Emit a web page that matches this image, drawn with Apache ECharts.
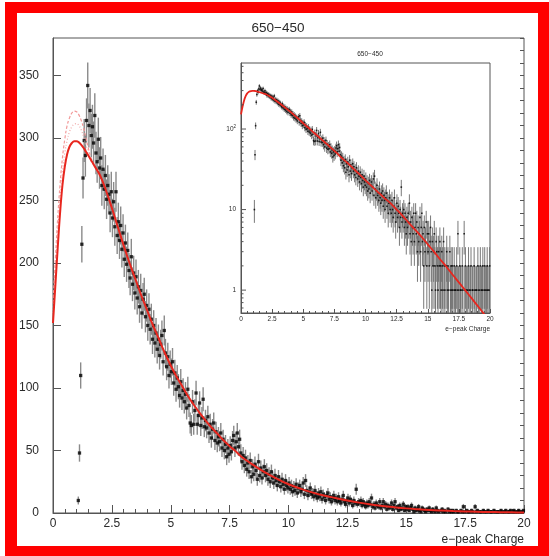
<!DOCTYPE html>
<html>
<head>
<meta charset="utf-8">
<script src="https://cdn.jsdelivr.net/npm/echarts@6/dist/echarts.min.js"></script>
<style>
html, body { margin: 0; padding: 0; background: #fff; }
#chart { width: 549px; height: 556px; }
</style>
</head>
<body>
<div id="chart"></div>
<script>
// Histogram binning: 0.05-wide bins starting at 1.0
const binLow = 1.0;
const binWidth = 0.05;

// Bin contents, one row per unit of charge (1-2, 2-3, ... 19-20)
const counts = [
  0, 10, 48, 110, 215, 268, 298, 286, 314, 342, 310, 322, 302, 309, 296, 318, 288, 281, 299, 276,
  284, 262, 275, 259, 270, 251, 262, 255, 240, 257, 236, 249, 229, 257, 222, 233, 218, 230, 211, 224,
  203, 216, 199, 210, 194, 188, 205, 183, 192, 176, 189, 172, 181, 165, 178, 160, 171, 175, 157, 166,
  150, 163, 147, 155, 139, 150, 136, 144, 131, 139, 126, 135, 142, 121, 146, 128, 117, 125, 110, 119,
  113, 121, 104, 112, 99, 108, 101, 94, 105, 92, 98, 89, 95, 84, 99, 86, 72, 70, 89, 71,
  82, 96, 71, 78, 88, 70, 76, 91, 69, 74, 68, 77, 64, 71, 60, 67, 72, 58, 65, 56,
  61, 57, 64, 52, 59, 50, 55, 45, 52, 47, 54, 49, 58, 62, 52, 57, 64, 53, 59, 48,
  41, 46, 38, 44, 35, 40, 33, 42, 29, 37, 31, 39, 34, 27, 41, 30, 36, 28, 33, 37,
  30, 34, 27, 31, 25, 33, 28, 24, 30, 26, 22, 29, 25, 21, 27, 23, 19, 26, 22, 20,
  24, 19, 22, 17, 21, 18, 23, 16, 20, 22, 17, 19, 24, 15, 26, 18, 14, 17, 20, 15,
  16, 13, 18, 14, 12, 16, 13, 17, 11, 15, 13, 10, 14, 16, 11, 13, 9, 12, 14, 10,
  12, 9, 13, 10, 8, 11, 14, 9, 7, 10, 12, 8, 11, 9, 6, 10, 8, 19, 7, 9,
  8, 10, 6, 9, 7, 5, 8, 6, 9, 7, 12, 5, 7, 4, 8, 6, 5, 9, 4, 6,
  9, 5, 7, 3, 6, 4, 5, 8, 3, 6, 9, 4, 5, 2, 6, 3, 4, 7, 2, 5,
  3, 5, 2, 4, 6, 3, 1, 4, 2, 3, 5, 2, 1, 4, 3, 2, 1, 3, 2, 4,
  2, 1, 3, 2, 1, 4, 2, 1, 0, 2, 3, 1, 2, 1, 0, 3, 1, 2, 1, 2,
  1, 0, 2, 1, 1, 0, 2, 1, 5, 1, 0, 2, 1, 1, 0, 2, 1, 0, 5, 1,
  2, 0, 1, 1, 0, 2, 1, 0, 1, 2, 0, 1, 1, 0, 2, 1, 0, 1, 1, 0,
  2, 1, 0, 1, 2, 0, 1, 1, 2, 0, 1, 2, 1, 0, 1, 2, 1, 0, 1, 2
];

// Fitted function (solid red)
const fitX = [0, 0.1, 0.2, 0.3, 0.4, 0.5, 0.6, 0.7, 0.8, 0.9, 1.0, 1.1, 1.2, 1.3, 1.4, 1.5, 1.75, 2.0,
  2.25, 2.5, 2.75, 3.0, 3.25, 3.5, 3.75, 4.0, 4.25, 4.5, 4.75, 5.0, 5.25, 5.5, 5.75, 6.0, 6.25, 6.5,
  6.75, 7.0, 7.25, 7.5, 7.75, 8.0, 8.5, 9.0, 9.5, 10.0, 10.5, 11.0, 11.5, 12.0, 12.5, 13.0, 13.5,
  14.0, 14.5, 15.0, 15.5, 16.0, 16.5, 17.0, 17.5, 18.0, 18.5, 19.0, 19.5, 20.0];
const fitY = [152, 182, 212, 240, 262, 277, 287, 293, 296, 297.5, 297.5, 296.5, 294.5, 292, 289, 286, 278, 270,
  258, 244, 229, 214, 200, 187, 174, 162, 150, 139, 128, 118, 109, 101, 93, 86, 79.5, 73.5,
  68, 63, 58, 53.5, 49.5, 45, 38.5, 32.5, 27.5, 23, 19.5, 16.5, 14, 12, 10, 8.3, 6.8,
  5.6, 4.6, 3.7, 3.0, 2.4, 1.95, 1.55, 1.25, 1.0, 0.8, 0.64, 0.51, 0.41];

// Alternative fits near the peak (light red, dashed / dotted)
const altX = [0, 0.1, 0.2, 0.3, 0.4, 0.5, 0.6, 0.7, 0.8, 0.9, 1.0, 1.1, 1.2, 1.3, 1.4, 1.5, 1.6, 1.75];
const altFitA = [168, 203, 236, 263, 284, 299, 310, 316, 320, 321.5, 321, 318.5, 314, 308, 300, 292, 285, 278];
const altFitB = [160, 193, 225, 252, 272, 288, 298, 305, 309, 311, 311.5, 310, 306.5, 301, 294, 287, 282, 278];

// Tick values for the logarithmic axis of the small pad
const logMinorTicks = [0.6, 0.7, 0.8, 0.9, 2, 3, 4, 5, 6, 7, 8, 9, 20, 30, 40, 50, 60, 70, 80, 90, 200, 300, 400, 500, 600];
const logMajorTicks = [1, 10, 100];

const titleText = '650\u2212450';
const xTitle = 'e\u2212peak Charge';

const FONT = 'Liberation Sans';
const AXIS = '#555';
const TXT = '#2a2a2a';

// Points with Poisson errors; empty bins are not drawn
const points = counts
  .map((c, i) => [binLow + binWidth * (i + 0.5), c])
  .filter(p => p[1] > 0)
  .map(p => [p[0], p[1], Math.sqrt(p[1])]);

const fitLine = fitX.map((x, i) => [x, fitY[i]]);
const altLineA = altX.map((x, i) => [x, altFitA[i]]);
const altLineB = altX.map((x, i) => [x, altFitB[i]]);

function errorBars(xi, yi, width, floor, color) {
  return {
    type: 'custom', xAxisIndex: xi, yAxisIndex: yi, clip: true, silent: true, z: 2,
    data: points,
    encode: { x: 0, y: 1 },
    renderItem(params, api) {
      const x = api.value(0), v = api.value(1), e = api.value(2);
      const a = api.coord([x, Math.max(v - e, floor)]);
      const b = api.coord([x, v + e]);
      return { type: 'line', shape: { x1: a[0], y1: a[1], x2: b[0], y2: b[1] },
               style: { stroke: color, lineWidth: width } };
    }
  };
}

function markers(xi, yi, size) {
  return {
    type: 'scatter', xAxisIndex: xi, yAxisIndex: yi, silent: true, z: 3,
    symbol: 'rect', symbolSize: size,
    itemStyle: { color: '#000' },
    data: points.map(p => [p[0], p[1]])
  };
}

function logTickSeries(vals, len) {
  return {
    type: 'custom', xAxisIndex: 1, yAxisIndex: 2, silent: true, z: 5,
    data: vals.map(v => [0, v]),
    encode: { x: 0, y: 1 },
    renderItem(params, api) {
      const p = api.coord([api.value(0), api.value(1)]);
      return { type: 'line', shape: { x1: p[0], y1: p[1], x2: p[0] + len, y2: p[1] },
               style: { stroke: AXIS, lineWidth: 1 } };
    }
  };
}

const chart = echarts.init(document.getElementById('chart'), null, { renderer: 'canvas' });

chart.setOption({
  animation: false,
  backgroundColor: '#fff',
  textStyle: { fontFamily: FONT },
  title: [
    { text: titleText, left: 278, top: 21, textAlign: 'center', padding: 0,
      textStyle: { fontSize: 13.5, fontWeight: 'normal', color: TXT, fontFamily: FONT } },
    { text: titleText, left: 370, top: 51, textAlign: 'center', padding: 0,
      textStyle: { fontSize: 6.5, fontWeight: 'normal', color: TXT, fontFamily: FONT } }
  ],
  graphic: [
    { type: 'rect', shape: { x: 5, y: 2, width: 544, height: 11 }, style: { fill: '#ff0000' } },
    { type: 'rect', shape: { x: 5, y: 2, width: 12, height: 554 }, style: { fill: '#ff0000' } },
    { type: 'rect', shape: { x: 538, y: 2, width: 11, height: 554 }, style: { fill: '#ff0000' } },
    { type: 'rect', shape: { x: 5, y: 546, width: 544, height: 10 }, style: { fill: '#ff0000' } }
  ],
  grid: [
    { left: 53, top: 38, width: 471, height: 475, show: true, backgroundColor: '#fff', borderColor: AXIS, borderWidth: 1 },
    { left: 241, top: 63, width: 249, height: 250, show: true, backgroundColor: '#fff', borderColor: AXIS, borderWidth: 1 }
  ],
  xAxis: [
    { type: 'value', gridIndex: 0, min: 0, max: 20, interval: 2.5,
      name: xTitle, nameLocation: 'end', nameGap: 0,
      nameTextStyle: { fontSize: 12, color: TXT, align: 'right', verticalAlign: 'top', padding: [21, 0, 0, 0] },
      axisLine: { show: true, lineStyle: { color: AXIS } },
      axisTick: { show: true, inside: true, length: 8, lineStyle: { color: AXIS } },
      minorTick: { show: true, splitNumber: 5, length: 4, lineStyle: { color: AXIS } },
      axisLabel: { fontSize: 12, color: TXT, margin: 5 },
      splitLine: { show: false } },
    { type: 'value', gridIndex: 1, min: 0, max: 20, interval: 2.5,
      name: xTitle, nameLocation: 'end', nameGap: 0,
      nameTextStyle: { fontSize: 6.5, color: TXT, align: 'right', verticalAlign: 'top', padding: [13, 0, 0, 0] },
      axisLine: { show: true, lineStyle: { color: AXIS } },
      axisTick: { show: true, inside: true, length: 4, lineStyle: { color: AXIS } },
      minorTick: { show: true, splitNumber: 5, length: 2, lineStyle: { color: AXIS } },
      axisLabel: { fontSize: 6.5, color: TXT, margin: 3 },
      splitLine: { show: false } }
  ],
  yAxis: [
    { type: 'value', gridIndex: 0, min: 0, max: 380, interval: 50,
      axisLine: { show: true, lineStyle: { color: AXIS } },
      axisTick: { show: true, inside: true, length: 8, lineStyle: { color: AXIS } },
      axisLabel: { fontSize: 12, color: TXT, margin: 14, showMaxLabel: false },
      splitLine: { show: false } },
    { type: 'value', gridIndex: 0, min: 0, max: 380, interval: 10,
      axisLine: { show: false },
      axisTick: { show: true, inside: true, length: 4, lineStyle: { color: AXIS } },
      axisLabel: { show: false },
      splitLine: { show: false } },
    { type: 'log', logBase: 10, gridIndex: 1, min: 0.52, max: 660,
      axisLine: { show: true, lineStyle: { color: AXIS } },
      axisTick: { show: false },
      axisLabel: {
        fontSize: 6.5, color: TXT, margin: 5,
        formatter: v => {
          const lg = Math.log10(v), k = Math.round(lg);
          if (Math.abs(lg - k) > 1e-6) return '';
          if (k === 0) return '1';
          if (k === 1) return '10';
          return '10{s|' + k + '}';
        },
        rich: { s: { fontSize: 4.5, color: TXT, padding: [0, 0, 5, 0] } }
      },
      splitLine: { show: false } }
  ],
  series: [
    // main pad
    errorBars(0, 0, 1.4, 0, '#8a8a8a'),
    markers(0, 0, 3.3),
    { type: 'line', xAxisIndex: 0, yAxisIndex: 0, data: altLineA, smooth: 0.4, showSymbol: false, silent: true, z: 4,
      lineStyle: { color: '#f29a9a', width: 1.2, type: [3, 2] } },
    { type: 'line', xAxisIndex: 0, yAxisIndex: 0, data: altLineB, smooth: 0.4, showSymbol: false, silent: true, z: 4,
      lineStyle: { color: '#f0a8a8', width: 1.2, type: [1, 2] } },
    { type: 'line', xAxisIndex: 0, yAxisIndex: 0, data: fitLine, smooth: 0.4, showSymbol: false, silent: true, z: 4,
      lineStyle: { color: '#e8261e', width: 2 } },
    // inset pad
    errorBars(1, 2, 0.9, 0.3, '#6a6a6a'),
    markers(1, 2, 1.6),
    { type: 'line', xAxisIndex: 1, yAxisIndex: 2, data: fitLine, smooth: 0.4, showSymbol: false, silent: true, z: 4,
      lineStyle: { color: '#e8261e', width: 1.8 } },
    logTickSeries(logMinorTicks, 2.5),
    logTickSeries(logMajorTicks, 5)
  ]
});
</script>
</body>
</html>
